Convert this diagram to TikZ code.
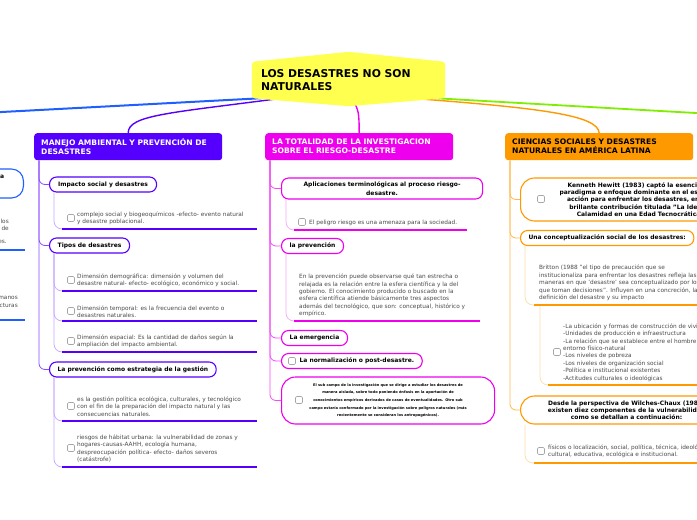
\documentclass[tikz,border=0pt]{standalone}
\usepackage{fontspec}
\setmainfont{DejaVu Sans}
\usetikzlibrary{backgrounds}
\definecolor{violeta}{HTML}{5500FF}
\definecolor{fucsia}{HTML}{EE00EE}
\definecolor{naranja}{HTML}{FF9900}
\definecolor{azul}{HTML}{1F5FFF}
\definecolor{verde}{HTML}{80EE00}
\definecolor{amarillo}{HTML}{FFFF50}
\definecolor{texto}{HTML}{4A4A4A}

\begin{document}
\begin{tikzpicture}[x=1pt,y=-1pt,
  tema/.style={rounded corners=3pt,anchor=north west,minimum height=27pt,text width=174pt,inner xsep=7pt,align=left,font=\bfseries\fontsize{7.6}{9}\selectfont},
  burbuja/.style={draw,fill=white,line width=1.1pt,rounded corners=7pt,anchor=west,minimum height=15pt,inner xsep=8pt,inner ysep=0pt,font=\bfseries\fontsize{6}{7.3}\selectfont},
  hoja/.style={anchor=west,align=left,inner sep=0pt,text=texto,font=\fontsize{5.8}{7.4}\selectfont},
  caja/.style={draw=gray!70,fill=white,rounded corners=1.2pt,minimum size=7pt,inner sep=0pt,line width=0.6pt},
  tronco/.style={line width=0.8pt,rounded corners=6pt},
  hilo/.style={line width=0.7pt,rounded corners=8pt},
  raya/.style={line width=2.6pt}]

  \useasboundingbox (0,0) rectangle (697,520);
  \clip (0,0) rectangle (697,520);

  % Central topic
  \node[align=left,text width=175pt,inner xsep=9pt,minimum height=36pt,font=\bfseries\fontsize{10.8}{13}\selectfont] (raiz) at (348.5,80) {LOS DESASTRES NO SON\\NATURALES};

  % Main topics
  \node[tema,fill=violeta,text=white] (manejo) at (34,133) {MANEJO AMBIENTAL Y PREVENCIÓN DE\\DESASTRES};
  \node[tema,fill=fucsia,text=white] (totalidad) at (265,133) {LA TOTALIDAD DE LA INVESTIGACION\\SOBRE EL RIESGO-DESASTRE};
  \node[tema,fill=naranja] (ciencias) at (505,133) {CIENCIAS SOCIALES Y DESASTRES\\NATURALES EN AMÉRICA LATINA};

  \coordinate (azulFin) at (-4,112.3);
  \coordinate (verdeFin) at (701,113.3);

  % Branches from the centre
  \begin{scope}[on background layer]
    \draw[azul,line width=2pt] ([xshift=10pt]raiz.south west) -- (azulFin);
    \draw[verde,line width=1.8pt] ([xshift=-10pt]raiz.south east) -- (verdeFin);
    \draw[violeta,line width=1.4pt] ([xshift=30pt]raiz.south west) .. controls (170,113) and (128,115) .. (manejo.north);
    \draw[fucsia,line width=1.4pt] ([xshift=4pt]raiz.south) .. controls (359,112) .. (totalidad.north);
    \draw[naranja,line width=1.4pt] ([xshift=-35pt]raiz.south east) .. controls (540,108) and (598,115) .. (ciencias.north);
    \fill[amarillo,rounded corners=3pt] (raiz.north west) -- ([yshift=10pt]raiz.north) -- (raiz.north east)
      -- (raiz.south east) -- ([yshift=-8pt]raiz.south) -- (raiz.south west) -- cycle;
  \end{scope}

  % Left branch, cut off by the page
  \node[burbuja,draw=azul,rounded corners=12pt,anchor=east,minimum width=80pt,minimum height=29pt] (izq) at (24,183.5) {};
  \node[anchor=west,inner sep=0pt,font=\bfseries\fontsize{6}{7.3}\selectfont] (izqA) at (0,176.5) {a};
  \node[hoja,anchor=east] (izq1) at (9,221) {los};
  \node[hoja,anchor=east] (izq2) at (9,228.3) {de};
  \node[hoja,anchor=east] (izq3) at (7,242.3) {es.};
  \node[hoja,anchor=east] (izq4) at (18,297.7) {manos};
  \node[hoja,anchor=east] (izq5) at (18,305) {cturas};
  \draw[raya,azul] (-5,250) -- (25,250);
  \draw[raya,azul] (-5,320) -- (25,320);

  % Manejo ambiental
  \node[burbuja,draw=violeta,minimum width=107pt] (impacto) at (49,184.5) {Impacto social y desastres};
  \node[burbuja,draw=violeta,minimum width=80pt] (tipos) at (49,245.5) {Tipos de desastres};
  \node[burbuja,draw=violeta,minimum width=165pt] (prevP) at (49,369.5) {La prevención como estrategia de la gestión};
  \draw[tronco,violeta!70] ([xshift=5pt]manejo.south west) |- (impacto.west);
  \draw[tronco,violeta!70] ([xshift=5pt]manejo.south west) |- (tipos.west);
  \draw[tronco,violeta!70] ([xshift=5pt]manejo.south west) |- (prevP.west);

  \coordinate (uI1) at (62,229);
  \coordinate (uT1) at (62,291);
  \coordinate (uT2) at (62,321);
  \coordinate (uT3) at (62,352);
  \coordinate (uP1) at (62,421);
  \coordinate (uP2) at (62,467);
  \draw[hilo,violeta!35] ([xshift=5pt]impacto.south west) |- (uI1);
  \draw[hilo,violeta!35] ([xshift=5pt]tipos.south west) |- (uT1);
  \draw[hilo,violeta!35] ([xshift=5pt]tipos.south west) |- (uT2);
  \draw[hilo,violeta!35] ([xshift=5pt]tipos.south west) |- (uT3);
  \draw[hilo,violeta!35] ([xshift=5pt]prevP.south west) |- (uP1);
  \draw[hilo,violeta!35] ([xshift=5pt]prevP.south west) |- (uP2);

  \node[caja] (cI1) at (71,218) {};
  \node[hoja] (I1) at (77,218.5) {complejo social y biogeoquímicos -efecto- evento natural\\y desastre poblacional.};
  \draw[raya,violeta] (uI1) -- ++(195,0);
  \node[caja] (cT1) at (71,280) {};
  \node[hoja] (T1) at (77,280.5) {Dimensión demográfica: dimensión y volumen del\\desastre natural- efecto- ecológico, económico y social.};
  \draw[raya,violeta] (uT1) -- ++(195,0);
  \node[caja] (cT2) at (71,311) {};
  \node[hoja] (T2) at (77,311.5) {Dimensión temporal: es la frecuencia del evento o\\desastres naturales.};
  \draw[raya,violeta] (uT2) -- ++(195,0);
  \node[caja] (cT3) at (71,341) {};
  \node[hoja] (T3) at (77,341.5) {Dimensión espacial: Es la cantidad de daños según la\\ampliación del impacto ambiental.};
  \draw[raya,violeta] (uT3) -- ++(195,0);
  \node[caja] (cP1) at (71,406) {};
  \node[hoja] (P1) at (77,406.5) {es la gestión política ecológica, culturales, y tecnológico\\con el fin de la preparación del impacto natural y las\\consecuencias naturales.};
  \draw[raya,violeta] (uP1) -- ++(195,0);
  \node[caja] (cP2) at (71,448) {};
  \node[hoja] (P2) at (77,448.5) {riesgos de hábitat urbana: la vulnerabilidad de zonas y\\hogares-causas-AAHH, ecología humana,\\despreocupación política- efecto- daños severos\\(catástrofe)};
  \draw[raya,violeta] (uP2) -- ++(195,0);

  % Totalidad de la investigacion
  \node[burbuja,draw=fucsia,minimum width=199pt,minimum height=21pt,text width=185pt,align=center,font=\bfseries\fontsize{6}{8.5}\selectfont] (aplic) at (281,188.5) {Aplicaciones terminológicas al proceso riesgo-\\desastre.};
  \node[burbuja,draw=fucsia,minimum width=62pt] (prevM) at (281,246) {la prevención};
  \node[burbuja,draw=fucsia,minimum width=66pt] (emerg) at (281,338) {La emergencia};
  \node[burbuja,draw=fucsia] (norm) at (281,361) {\hspace*{10pt}La normalización o post-desastre.};
  \node[burbuja,draw=fucsia,rounded corners=14pt,minimum width=213pt,minimum height=47pt,text width=180pt,align=center,font=\bfseries\fontsize{3.6}{7.6}\selectfont] (subcampo) at (281,400.5) {El sub campo de la investigación que se dirige a estudiar los desastres de\\manera aislada, sobre todo poniendo énfasis en la aportación de\\conocimientos empíricos derivados de casos de eventualidades. Otro sub\\campo estaría conformado por la investigación sobre peligros naturales (más\\recientemente se consideran los antropogénicos).};
  \node[caja] (cNorm) at (292,361) {};
  \node[caja] (cSub) at (299,400) {};
  \draw[tronco,fucsia!70] ([xshift=5pt]totalidad.south west) |- (aplic.west);
  \draw[tronco,fucsia!70] ([xshift=5pt]totalidad.south west) |- (prevM.west);
  \draw[tronco,fucsia!70] ([xshift=5pt]totalidad.south west) |- (emerg.west);
  \draw[tronco,fucsia!70] ([xshift=5pt]totalidad.south west) |- (norm.west);
  \draw[tronco,fucsia!70] ([xshift=5pt]totalidad.south west) |- (subcampo.west);

  \coordinate (uA) at (294,230);
  \coordinate (uE) at (294,321);
  \draw[hilo,fucsia!35] ([xshift=5pt]aplic.south west) |- (uA);
  \draw[hilo,fucsia!35] ([xshift=5pt]prevM.south west) |- (uE);
  \node[caja] (cA) at (302,222) {};
  \node[hoja] (A1) at (309,222.5) {El peligro riesgo es una amenaza para la sociedad.};
  \draw[raya,fucsia] (uA) -- ++(173,0);
  \node[hoja] (E1) at (299,295.5) {En la prevención puede observarse qué tan estrecha o\\relajada es la relación entre la esfera científica y la del\\gobierno. El conocimiento producido o buscado en la\\esfera científica atiende básicamente tres aspectos\\además del tecnológico, que son: conceptual, histórico y\\empírico.};
  \draw[raya,fucsia] (uE) -- ++(186,0);

  % Ciencias sociales
  \node[burbuja,draw=naranja,rounded corners=14pt,minimum height=43pt,text width=176pt,inner xsep=32pt,align=center] (hewitt) at (520,199.5) {Kenneth Hewitt (1983) captó la esencia del\\paradigma o enfoque dominante en el estudio y\\acción para enfrentar los desastres, en una\\brillante contribución titulada "La Idea de\\Calamidad en una Edad Tecnocrática"};
  \node[caja] (cH) at (541,199) {};
  \node[burbuja,draw=naranja,minimum width=173pt] (concepto) at (520,238) {Una conceptualización social de los desastres:};
  \node[burbuja,draw=naranja,rounded corners=14pt,minimum height=28pt,text width=176pt,inner xsep=18pt,align=center,font=\bfseries\fontsize{6}{7.2}\selectfont] (wilches) at (520,410) {Desde la perspectiva de Wilches-Chaux (1988)\\existen diez componentes de la vulnerabilidad\\como se detallan a continuación:};
  \draw[tronco,naranja!70] ([xshift=5pt]ciencias.south west) |- (hewitt.west);
  \draw[tronco,naranja!70] ([xshift=5pt]ciencias.south west) |- (concepto.west);
  \draw[tronco,naranja!70] ([xshift=5pt]ciencias.south west) |- (wilches.west);

  \coordinate (uB) at (534,305);
  \coordinate (uL) at (548,385);
  \coordinate (uF) at (534,463);
  \draw[hilo,naranja!35] ([xshift=5pt]concepto.south west) |- (uB);
  \draw[hilo,naranja!35] ([xshift=6pt]uB) |- (uL);
  \draw[hilo,naranja!35] ([xshift=5pt]wilches.south west) |- (uF);
  \node[hoja] (B1) at (539,283) {Britton (1988 "el tipo de precaución que se\\institucionaliza para enfrentar los desastres refleja las\\maneras en que 'desastre' sea conceptualizado por los\\que toman decisiones". Influyen en una concreción, la\\definición del desastre y su impacto};
  \draw[raya,naranja] (uB) -- ++(170,0);
  \node[caja] (cL) at (557,352) {};
  \node[hoja] (L1) at (563,352.5) {-La ubicación y formas de construcción de vivienda\\-Unidades de producción e infraestructura\\-La relación que se establece entre el hombre y su\\entorno físico-natural\\-Los niveles de pobreza\\-Los niveles de organización social\\-Política e institucional existentes\\-Actitudes culturales o ideológicas};
  \draw[raya,naranja] (uL) -- ++(156,0);
  \node[caja] (cF) at (541,451) {};
  \node[hoja] (F1) at (548,451.5) {físicos o localización, social, política, técnica, ideológica,\\cultural, educativa, ecológica e institucional.};
  \draw[raya,naranja] (uF) -- ++(170,0);
\end{tikzpicture}
\end{document}
